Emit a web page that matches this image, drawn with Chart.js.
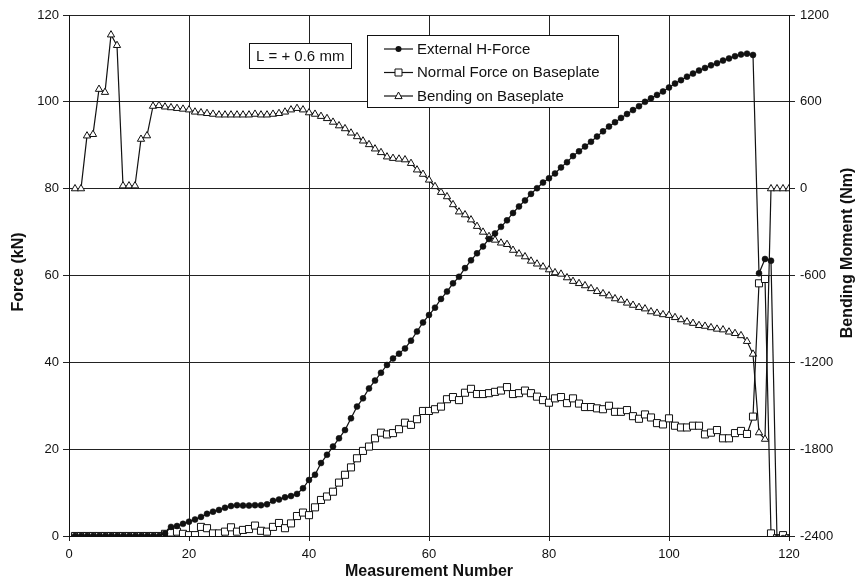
<!DOCTYPE html>
<html>
<head>
<meta charset="utf-8">
<script src="https://cdn.jsdelivr.net/npm/chart.js@4.4.0/dist/chart.umd.min.js"></script>
<style>
  body { margin: 0; background: #fff; }
  #wrap { width: 858px; height: 582px; position: relative; }
</style>
</head>
<body>
<div id="wrap"><canvas id="myChart"></canvas></div>
<script>
// measurement numbers
const measurements = [
  1, 2, 3, 4, 5, 6, 7, 8, 9, 10, 11, 12, 13, 14, 15, 16, 17, 18, 19, 20,
  21, 22, 23, 24, 25, 26, 27, 28, 29, 30, 31, 32, 33, 34, 35, 36, 37, 38, 39, 40,
  41, 42, 43, 44, 45, 46, 47, 48, 49, 50, 51, 52, 53, 54, 55, 56, 57, 58, 59, 60,
  61, 62, 63, 64, 65, 66, 67, 68, 69, 70, 71, 72, 73, 74, 75, 76, 77, 78, 79, 80,
  81, 82, 83, 84, 85, 86, 87, 88, 89, 90, 91, 92, 93, 94, 95, 96, 97, 98, 99, 100,
  101, 102, 103, 104, 105, 106, 107, 108, 109, 110, 111, 112, 113, 114, 115, 116, 117, 118, 119, 120
];

// External H-Force (kN)
const hForce = [
  0, 0, 0, 0, 0, 0, 0, 0, 0, 0, 0, 0, 0, 0, 0, 0.6, 2.1, 2.3, 2.8, 3.3,
  3.8, 4.4, 5.1, 5.6, 6.0, 6.5, 6.9, 7.1, 7.0, 7.0, 7.1, 7.1, 7.3, 8.1, 8.4, 8.9, 9.2, 9.7, 11.0, 12.9,
  14.1, 16.8, 18.7, 20.6, 22.5, 24.4, 27.1, 29.8, 31.7, 34.0, 35.8, 37.6, 39.4, 40.9, 42.0, 43.2, 45.0, 47.1, 49.2, 50.9,
  52.6, 54.6, 56.3, 58.2, 59.7, 61.7, 63.5, 65.1, 66.7, 68.4, 69.7, 71.2, 72.7, 74.4, 75.9, 77.3, 78.8, 80.1, 81.4, 82.4,
  83.5, 84.9, 86.1, 87.5, 88.6, 89.7, 90.8, 92.0, 93.2, 94.3, 95.3, 96.3, 97.2, 98.1, 99.0, 100.0, 100.8, 101.6, 102.4, 103.3,
  104.2, 105.0, 105.8, 106.5, 107.2, 107.8, 108.4, 108.9, 109.5, 110.0, 110.5, 110.9, 111.1, 110.8, 60.5, 63.8, 63.4, -0.5, -0.5, -0.5
];

// Normal Force on Baseplate (kN)
const normalForce = [
  0, 0, 0, 0, 0, 0, 0, 0, 0, 0, 0, 0, 0, 0, 0, 0.5, 0.8, 1.0, 0.5, 0.2,
  0.2, 2.1, 1.8, 0.6, 0.6, 1.0, 2.0, 1.0, 1.4, 1.6, 2.4, 1.2, 1.0, 2.1, 3.0, 1.8, 2.9, 4.6, 5.4, 4.8,
  6.6, 8.3, 9.1, 10.2, 12.3, 14.1, 15.8, 17.9, 19.6, 20.6, 22.5, 23.8, 23.4, 23.7, 24.6, 26.1, 25.6, 26.9, 28.8, 28.8,
  29.2, 29.8, 31.5, 32.0, 31.3, 33.0, 33.9, 32.7, 32.7, 32.9, 33.2, 33.5, 34.3, 32.7, 32.9, 33.5, 32.9, 32.1, 31.3, 30.7,
  31.7, 32.0, 30.6, 31.7, 30.5, 29.7, 29.7, 29.4, 29.2, 30.0, 28.6, 28.6, 29.0, 27.6, 27.0, 28.0, 27.3, 26.0, 25.7, 27.1,
  25.4, 25.0, 25.0, 25.4, 25.4, 23.4, 23.8, 24.4, 22.5, 22.5, 23.7, 24.2, 23.5, 27.5, 58.2, 59.2, 0.6, -0.5, 0.2, -0.5
];

// Bending on Baseplate (Nm)
const bending = [
  0, 0, 365, 375, 687, 666, 1063, 990, 20, 20, 20, 342, 366, 570, 575, 565, 560, 555, 550, 545,
  530, 525, 520, 515, 510, 510, 510, 510, 510, 510, 515, 510, 510, 515, 520, 530, 545, 555, 545, 525,
  515, 500, 485, 460, 435, 415, 385, 360, 330, 305, 275, 250, 220, 210, 205, 200, 175, 130, 100, 60,
  15, -25, -55, -110, -160, -180, -215, -260, -300, -330, -355, -375, -385, -425, -450, -470, -500, -520, -540, -560,
  -580, -590, -615, -640, -655, -670, -690, -710, -725, -740, -760, -770, -790, -805, -820, -830, -850, -860, -870, -875,
  -890, -905, -920, -930, -945, -950, -960, -970, -975, -990, -1000, -1015, -1055, -1143, -1686, -1731, 0, 0, 0, 0
];

const seriesLabels = ["External H-Force", "Normal Force on Baseplate", "Bending on Baseplate"];
const forceTicks = [0, 20, 40, 60, 80, 100, 120];
const momentTicks = [-2400, -1800, -1200, -600, 0, 600, 1200];
const measureTicks = [0, 20, 40, 60, 80, 100, 120];
const noteText = "L = + 0.6 mm";

function toPoints(values) {
  return values.map((v, i) => ({ x: measurements[i], y: v }));
}

const FONT = "'Liberation Sans', Arial, sans-serif";
const INK = "#111";

function drawMarker(ctx, style, x, y) {
  ctx.save();
  ctx.lineWidth = 1;
  ctx.strokeStyle = INK;
  ctx.beginPath();
  if (style === "circle") {
    ctx.fillStyle = INK;
    ctx.arc(x, y, 3, 0, Math.PI * 2);
    ctx.fill();
  } else if (style === "rect") {
    ctx.fillStyle = "#fff";
    ctx.rect(x - 3.5, y - 3.5, 7, 7);
    ctx.fill();
    ctx.stroke();
  } else {
    ctx.fillStyle = "#fff";
    ctx.moveTo(x, y - 4);
    ctx.lineTo(x + 3.6, y + 2.6);
    ctx.lineTo(x - 3.6, y + 2.6);
    ctx.closePath();
    ctx.fill();
    ctx.stroke();
  }
  ctx.restore();
}

const extras = {
  id: "extras",
  afterDraw(chart) {
    const ctx = chart.ctx;
    ctx.save();
    ctx.fillStyle = INK;
    ctx.strokeStyle = INK;

    // axis titles
    ctx.font = "bold 16px " + FONT;
    ctx.textAlign = "center";
    ctx.textBaseline = "middle";
    ctx.fillText("Measurement Number", 429, 572);
    ctx.save();
    ctx.translate(19, 272);
    ctx.rotate(-Math.PI / 2);
    ctx.fillText("Force (kN)", 0, 0);
    ctx.restore();
    ctx.save();
    ctx.translate(848, 253);
    ctx.rotate(-Math.PI / 2);
    ctx.fillText("Bending Moment (Nm)", 0, 0);
    ctx.restore();

    // note box
    ctx.lineWidth = 1;
    ctx.fillStyle = "#fff";
    ctx.fillRect(249.5, 43.5, 102, 25);
    ctx.strokeRect(249.5, 43.5, 102, 25);
    ctx.fillStyle = INK;
    ctx.font = "15px " + FONT;
    ctx.textAlign = "left";
    ctx.fillText(noteText, 256, 56.5);

    // legend
    ctx.fillStyle = "#fff";
    ctx.fillRect(367.5, 35.5, 251, 72);
    ctx.strokeRect(367.5, 35.5, 251, 72);
    const styles = ["circle", "rect", "triangle"];
    seriesLabels.forEach((label, i) => {
      const y = 49 + i * 23.5;
      ctx.beginPath();
      ctx.lineWidth = 1.2;
      ctx.moveTo(384, y);
      ctx.lineTo(413, y);
      ctx.stroke();
      drawMarker(ctx, styles[i], 398.5, y);
      ctx.fillStyle = INK;
      ctx.font = "15px " + FONT;
      ctx.fillText(label, 417, y + 0.5);
    });
    ctx.restore();
  }
};

const ctx = document.getElementById("myChart").getContext("2d");
new Chart(ctx, {
  type: "line",
  data: {
    datasets: [
      {
        label: seriesLabels[0],
        data: toPoints(hForce),
        yAxisID: "y",
        borderColor: INK,
        borderWidth: 1.2,
        pointStyle: "circle",
        pointRadius: 3,
        pointBackgroundColor: INK,
        pointBorderColor: INK,
        pointBorderWidth: 0.5,
        tension: 0,
        order: 1,
      },
      {
        label: seriesLabels[1],
        data: toPoints(normalForce),
        yAxisID: "y",
        borderColor: INK,
        borderWidth: 1.2,
        pointStyle: "rect",
        pointRadius: 5,
        pointBackgroundColor: "#fff",
        pointBorderColor: INK,
        pointBorderWidth: 1,
        tension: 0,
        order: 2,
      },
      {
        label: seriesLabels[2],
        data: toPoints(bending),
        yAxisID: "y2",
        borderColor: INK,
        borderWidth: 1.2,
        pointStyle: "triangle",
        pointRadius: 4.2,
        pointBackgroundColor: "#fff",
        pointBorderColor: INK,
        pointBorderWidth: 1,
        tension: 0,
        order: 3,
      },
    ],
  },
  options: {
    responsive: true,
    maintainAspectRatio: false,
    animation: false,
    layout: { padding: { top: 15, left: 0, right: 0, bottom: 0 } },
    plugins: {
      legend: { display: false },
      tooltip: { enabled: false },
      title: { display: false },
    },
    scales: {
      x: {
        type: "linear",
        min: measureTicks[0],
        max: measureTicks[measureTicks.length - 1],
        afterBuildTicks: (s) => { s.ticks = measureTicks.map((v) => ({ value: v })); },
        afterFit: (s) => { s.height = 46; },
        grid: { color: "#222", lineWidth: 1, tickLength: 5, tickColor: "#222" },
        border: { color: "#111", width: 1 },
        ticks: { color: INK, font: { family: FONT, size: 13 }, padding: 6, callback: (v) => String(v) },
      },
      y: {
        position: "left",
        min: forceTicks[0],
        max: forceTicks[forceTicks.length - 1],
        afterBuildTicks: (s) => { s.ticks = forceTicks.map((v) => ({ value: v })); },
        afterFit: (s) => { s.width = 69; },
        grid: { color: "#222", lineWidth: 1, tickLength: 6, tickColor: "#222" },
        border: { color: "#111", width: 1 },
        ticks: { color: INK, font: { family: FONT, size: 13 }, padding: 4, callback: (v) => String(v) },
      },
      y2: {
        position: "right",
        min: momentTicks[0],
        max: momentTicks[momentTicks.length - 1],
        afterBuildTicks: (s) => { s.ticks = momentTicks.map((v) => ({ value: v })); },
        afterFit: (s) => { s.width = 69; },
        grid: { drawOnChartArea: false, tickLength: 6, tickColor: "#222" },
        border: { color: "#111", width: 1 },
        ticks: { color: INK, font: { family: FONT, size: 13 }, padding: 5, callback: (v) => String(v) },
      },
    },
  },
  plugins: [extras],
});
</script>
</body>
</html>
